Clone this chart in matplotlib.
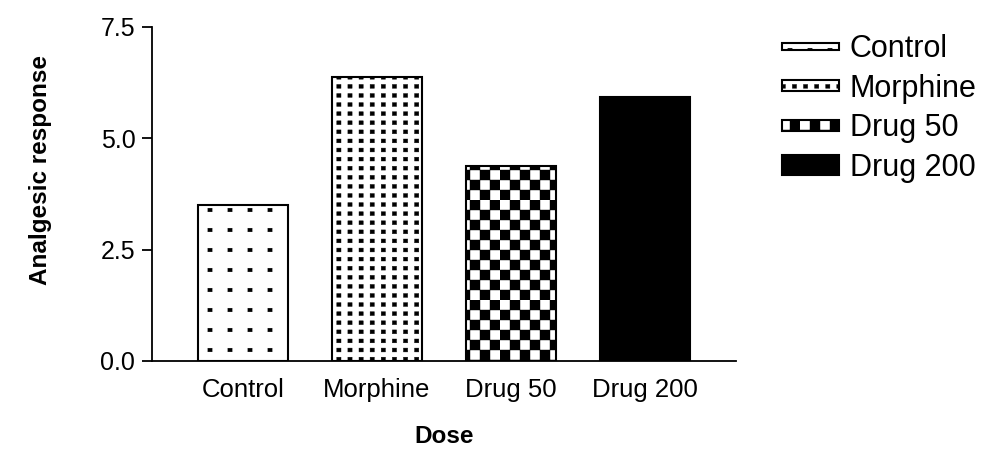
import warnings

import matplotlib
matplotlib.use("Agg")
import matplotlib.pyplot as plt
from matplotlib import hatch as mhatch
from matplotlib.legend_handler import HandlerPatch
from matplotlib.patches import Rectangle
from matplotlib.path import Path

warnings.filterwarnings("ignore")

######
# Data
######
categories = ["Control", "Morphine", "Drug 50", "Drug 200"]
response = [3.5, 6.38, 4.38, 5.92]
yticks = [0.0, 2.5, 5.0, 7.5]

#######
# Style
#######
plt.rcParams["font.family"] = ["Liberation Sans", "DejaVu Sans"]
plt.rcParams["hatch.linewidth"] = 0.3

faces = ["white", "white", "white", "black"]
hatches = ["a", "b", "c", None]

# fill patterns in a one-inch hatch tile: cols, rows, dot w, dot h, checker
PATTERNS = {
    "a": (5, 5, 0.042, 0.036, False),   # sparse dots
    "b": (9, 11, 0.042, 0.038, False),  # dense dots
    "c": (10, 10, 0.1, 0.1, True),      # checkerboard
}

# legend handle heights in points (GraphPad draws them unevenly)
handle_heights = {"Control": 5, "Morphine": 8, "Drug 50": 8, "Drug 200": 14.5}


class SquareFill(mhatch.HatchPatternBase):
    """Filled square dots / checkerboard as a hatch pattern."""

    def __init__(self, hatch, density):
        self.squares = []
        for ch, (cols, rows, w, h, checker) in PATTERNS.items():
            if ch not in hatch:
                continue
            for i in range(cols):
                for j in range(rows):
                    if checker:
                        if (i + j) % 2 == 0:
                            self.squares.append((i / cols, j / rows, 1 / cols, 1 / rows))
                    else:
                        cx, cy = (i + 0.5) / cols, (j + 0.5) / rows
                        self.squares.append((cx - w / 2, cy - h / 2, w, h))
        self.num_vertices = 5 * len(self.squares)

    def set_vertices_and_codes(self, vertices, codes):
        for k, (x0, y0, w, h) in enumerate(self.squares):
            s = slice(5 * k, 5 * k + 5)
            vertices[s] = [(x0, y0), (x0 + w, y0), (x0 + w, y0 + h), (x0, y0 + h), (x0, y0)]
            codes[s] = [Path.MOVETO, Path.LINETO, Path.LINETO, Path.LINETO, Path.CLOSEPOLY]


mhatch._hatch_types.append(SquareFill)


def make_handle(legend, orig_handle, xdescent, ydescent, width, height, fontsize):
    h = handle_heights[orig_handle.get_label()]
    return Rectangle((-xdescent, -ydescent + (height - h) / 2), width, h)


######
# Plot
######
fig = plt.figure(figsize=(9.82, 4.5), dpi=100)
ax = fig.add_axes([0.1548, 0.1978, 0.5947, 0.743])

x = range(len(categories))
bars = ax.bar(x, response, width=0.67, color=faces, edgecolor="black", linewidth=1.5)
for patch, hatch, cat in zip(bars, hatches, categories):
    patch.set_hatch(hatch)
    patch.set_label(cat)

ax.set_xlim(-0.68, 3.68)
ax.set_ylim(0, 7.5)
ax.set_xticks(list(x))
ax.set_xticklabels(categories)
ax.set_yticks(yticks)

for side in ("top", "right"):
    ax.spines[side].set_visible(False)
for side in ("left", "bottom"):
    ax.spines[side].set_linewidth(1.3)

ax.tick_params(axis="y", length=7, width=1.3, pad=5, labelsize=18)
ax.tick_params(axis="x", length=0, pad=12, labelsize=18.5)

ax.set_ylabel("Analgesic response", fontsize=17.5, fontweight="bold")
ax.yaxis.set_label_coords(-0.171, 0.571)
ax.set_xlabel("Dose", fontsize=17.5, fontweight="bold")
ax.xaxis.set_label_coords(0.5, -0.19)

ax.legend(
    handles=list(bars),
    labels=categories,
    handler_map={Rectangle: HandlerPatch(patch_func=make_handle)},
    loc="upper left",
    bbox_to_anchor=(0.796, 0.925),
    bbox_transform=fig.transFigure,
    frameon=False,
    fontsize=22,
    handlelength=1.86,
    handletextpad=0.36,
    labelspacing=0.32,
    borderpad=0,
    borderaxespad=0,
)

fig.savefig("out.png", dpi=100)
